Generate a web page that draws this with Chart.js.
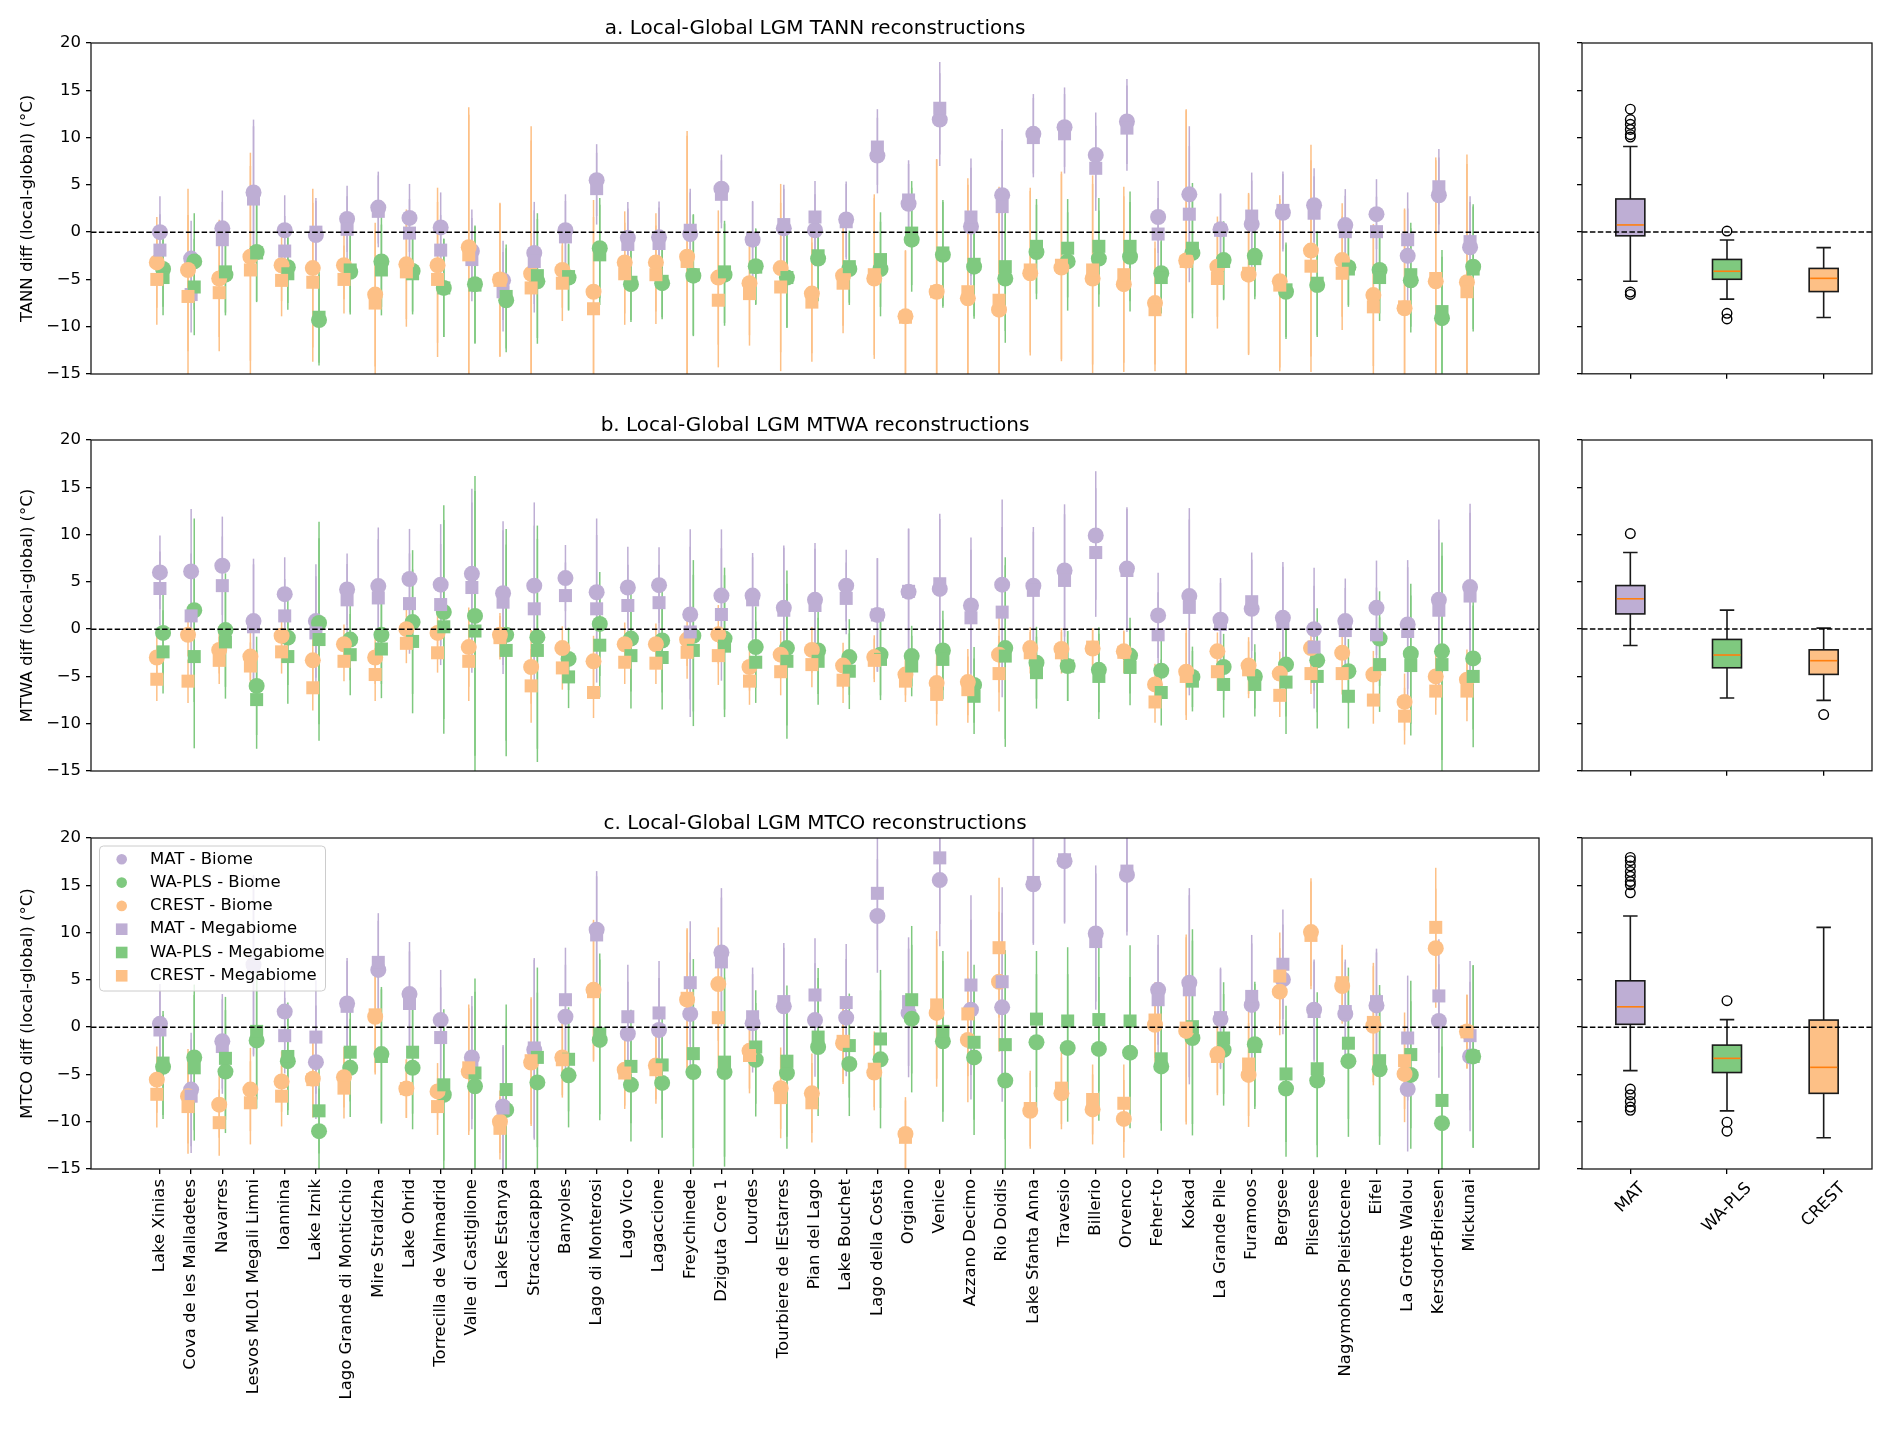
<!DOCTYPE html>
<html>
<head>
<meta charset="utf-8">
<script src="https://cdn.jsdelivr.net/npm/chart.js@4.4.1/dist/chart.umd.min.js"></script>
<style>
  body { margin: 0; background: #fff; width: 1892px; height: 1449px; position: relative; overflow: hidden; }
  canvas { position: absolute; }
</style>
</head>
<body>
<canvas id="mainA" width="1560" height="394" style="left:0;top:0"></canvas>
<canvas id="boxA" width="332" height="380" style="left:1560px;top:0"></canvas>
<canvas id="mainB" width="1560" height="394" style="left:0;top:397px"></canvas>
<canvas id="boxB" width="332" height="380" style="left:1560px;top:397px"></canvas>
<canvas id="mainC" width="1560" height="654" style="left:0;top:795px"></canvas>
<canvas id="boxC" width="332" height="654" style="left:1560px;top:795px"></canvas>
<script>
// sites along the x axis
const siteNames = ["Lake Xinias", "Cova de les Malladetes", "Navarres", "Lesvos ML01 Megali Limni", "Ioannina",
  "Lake Iznik", "Lago Grande di Monticchio", "Mire Straldzha", "Lake Ohrid", "Torrecilla de Valmadrid",
  "Valle di Castiglione", "Lake Estanya", "Stracciacappa", "Banyoles", "Lago di Monterosi", "Lago Vico",
  "Lagaccione", "Freychinede", "Dziguta Core 1", "Lourdes", "Tourbiere de lEstarres", "Pian del Lago",
  "Lake Bouchet", "Lago della Costa", "Orgiano", "Venice", "Azzano Decimo", "Rio Doidis", "Lake Sfanta Anna",
  "Travesio", "Billerio", "Orvenco", "Feher-to", "Kokad", "La Grande Pile", "Furamoos", "Bergsee",
  "Pilsensee", "Nagymohos Pleistocene", "Eifel", "La Grotte Walou", "Kersdorf-Briesen", "Mickunai"];
const methods = ["MAT", "WA-PLS", "CREST"];
const yTicks = [-15, -10, -5, 0, 5, 10, 15, 20];

// a. TANN
const tannMatBiome = [0.0,-2.8,0.4,4.2,0.2,-0.3,1.4,2.6,1.5,0.5,-2.0,-5.1,-2.2,0.2,5.5,-0.6,-0.55,-0.2,4.6,-0.8,0.4,0.2,1.35,8.1,3.0,11.9,0.6,3.9,10.4,11.1,8.15,11.7,1.6,4.0,0.3,0.85,2.05,2.85,0.75,1.9,-2.5,3.9,-1.6];
const tannMatMega = [-1.9,-6.6,-0.8,3.5,-2.0,0.0,0.3,2.2,-0.1,-1.9,-2.9,-6.3,-3.1,-0.5,4.6,-1.3,-1.2,0.2,4.0,-0.7,0.8,1.6,1.1,9.0,3.4,13.1,1.6,2.7,10.0,10.4,6.75,11.0,-0.2,1.9,0.2,1.7,2.3,2.0,0.05,0.05,-0.8,4.8,-1.0];
const tannWaplsBiome = [-3.9,-3.1,-4.5,-2.1,-3.7,-9.3,-4.2,-3.1,-4.1,-5.9,-5.5,-7.2,-5.2,-4.8,-1.7,-5.5,-5.4,-4.6,-4.5,-3.6,-4.8,-2.8,-3.9,-3.9,-0.8,-2.4,-3.65,-4.9,-2.1,-3.1,-2.8,-2.6,-4.35,-2.2,-2.95,-2.5,-6.3,-5.6,-3.7,-4.0,-5.1,-9.1,-3.65];
const tannWaplsMega = [-4.8,-5.8,-4.2,-2.2,-4.4,-9.0,-4.0,-4.0,-4.4,-5.9,-5.6,-6.8,-4.6,-4.7,-2.4,-5.3,-5.2,-4.5,-4.2,-3.7,-4.8,-2.5,-3.65,-2.9,-0.1,-2.2,-3.4,-3.65,-1.5,-1.7,-1.5,-1.5,-4.8,-1.7,-3.1,-2.8,-6.1,-5.4,-3.9,-4.8,-4.5,-8.4,-3.9];
const tannCrestBiome = [-3.2,-4.0,-4.9,-2.6,-3.5,-3.8,-3.5,-6.6,-3.4,-3.5,-1.6,-5.0,-4.4,-4.0,-6.3,-3.2,-3.2,-2.6,-4.8,-5.4,-3.8,-6.5,-4.6,-4.9,-8.9,-6.3,-7.0,-8.2,-4.35,-3.75,-4.9,-5.5,-7.5,-3.0,-3.65,-4.5,-5.2,-1.95,-2.95,-6.65,-8.05,-5.2,-5.3];
const tannCrestMega = [-5.0,-6.8,-6.4,-4.0,-5.1,-5.3,-5.0,-7.5,-4.2,-5.0,-2.4,-5.1,-5.9,-5.4,-8.1,-4.4,-4.5,-3.1,-7.2,-6.5,-5.8,-7.4,-5.4,-4.5,-9.0,-6.3,-6.3,-7.2,-4.0,-3.5,-4.0,-4.5,-8.2,-3.1,-4.9,-4.35,-5.6,-3.6,-4.35,-7.9,-7.9,-4.9,-6.3];
const tannMatErr = [3.8,4.0,4.0,7.7,3.7,3.6,3.5,3.8,3.6,3.7,4.4,4.2,5.4,3.8,3.8,3.8,3.8,4.4,3.6,4.0,4.2,3.8,4.0,4.0,4.2,4.9,6.2,7.0,4.2,4.2,4.5,4.5,3.8,7.2,3.8,4.6,4.1,3.9,3.8,3.7,5.0,4.0,4.8];
const tannWaplsErr = [4.0,5.1,4.3,5.2,3.8,4.8,4.5,4.8,4.3,5.2,6.2,5.5,6.6,3.5,5.3,4.0,3.8,6.4,5.4,4.0,5.3,4.5,3.8,5.0,5.5,5.6,5.5,6.8,5.0,5.2,5.1,5.8,3.8,6.9,4.1,4.3,5.0,5.5,4.0,4.6,5.5,6.5,6.6];
const tannCrestErr = [4.8,8.6,6.2,11.0,3.8,8.4,3.6,7.6,5.8,8.2,14.8,8.1,15.6,4.0,9.7,5.4,5.2,13.3,7.1,5.5,8.9,6.3,5.3,8.5,7.0,14.0,12.0,12.0,8.7,9.9,10.0,9.3,6.5,16.0,5.3,8.5,9.1,11.2,6.0,7.5,10.4,12.8,13.5];

// b. MTWA
const mtwaMatBiome = [6.0,6.1,6.7,0.85,3.7,0.85,4.2,4.55,5.3,4.7,5.85,3.8,4.6,5.4,3.9,4.4,4.65,1.55,3.55,3.55,2.25,3.1,4.6,1.5,3.95,4.25,2.5,4.7,4.6,6.2,9.9,6.4,1.45,3.5,1.0,2.15,1.2,0.0,0.85,2.25,0.5,3.1,4.45];
const mtwaMatMega = [4.3,1.4,4.6,0.25,1.4,-0.4,3.1,3.3,2.7,2.6,4.4,2.85,2.15,3.55,2.15,2.5,2.8,-0.3,1.55,3.1,2.0,2.5,3.25,1.5,4.0,4.8,1.2,1.8,4.1,5.15,8.1,6.2,-0.6,2.3,0.5,2.9,0.7,-1.9,-0.15,-0.6,-0.25,2.0,3.5];
const mtwaWaplsBiome = [-0.4,2.0,-0.1,-6.0,-0.9,0.65,-1.1,-0.6,0.75,1.8,1.4,-0.6,-0.85,-3.15,0.55,-1.0,-1.2,-0.7,-1.0,-1.9,-2.0,-2.25,-2.95,-2.7,-2.85,-2.25,-5.9,-2.0,-3.55,-3.9,-4.3,-2.8,-4.4,-5.05,-4.0,-5.0,-3.75,-3.3,-4.45,-1.0,-2.6,-2.35,-3.1];
const mtwaWaplsMega = [-2.4,-2.9,-1.35,-7.45,-2.9,-1.1,-2.7,-2.1,-1.3,0.25,-0.2,-2.25,-2.25,-5.05,-1.7,-2.8,-3.0,-2.25,-1.8,-3.5,-3.4,-3.4,-4.45,-3.2,-3.9,-3.2,-7.1,-2.85,-4.6,-3.9,-5.0,-4.05,-6.7,-5.5,-5.85,-5.85,-5.6,-5.0,-7.1,-3.75,-3.85,-3.75,-5.0];
const mtwaCrestBiome = [-3.0,-0.6,-2.2,-2.9,-0.7,-3.3,-1.6,-3.0,0.0,-0.4,-1.9,-0.6,-4.0,-2.0,-3.4,-1.6,-1.6,-1.1,-0.55,-4.0,-2.7,-2.2,-3.85,-2.95,-4.8,-5.7,-5.6,-2.7,-2.0,-2.1,-2.05,-2.35,-5.85,-4.5,-2.35,-3.85,-4.7,-2.0,-2.5,-4.8,-7.7,-5.0,-5.35];
const mtwaCrestMega = [-5.3,-5.5,-3.3,-3.9,-2.4,-6.2,-3.4,-4.8,-1.5,-2.5,-3.4,-0.9,-6.0,-4.1,-6.7,-3.5,-3.6,-2.45,-2.8,-5.5,-4.5,-3.75,-5.4,-3.3,-5.5,-6.9,-6.4,-4.7,-2.5,-2.5,-1.9,-2.45,-7.7,-5.0,-4.5,-4.3,-7.0,-4.7,-4.7,-7.5,-9.2,-6.55,-6.55];
const mtwaMatErr = [3.9,6.6,5.2,6.6,3.9,6.0,3.8,6.2,5.3,6.4,9.0,7.6,8.8,3.5,7.8,4.3,4.0,9.0,7.0,4.5,6.6,6.0,3.8,6.0,6.65,7.4,7.2,9.0,6.2,7.0,6.8,6.5,4.5,9.3,4.4,5.2,5.9,6.5,4.5,5.0,6.8,8.5,8.8];
const mtwaWaplsErr = [4.4,9.7,6.0,5.2,5.0,10.7,4.3,5.2,7.6,11.3,14.8,11.2,11.8,3.3,5.5,5.6,5.5,8.0,7.5,4.3,8.2,4.6,4.0,4.3,3.2,4.2,4.0,9.6,3.8,3.7,4.5,4.0,3.5,3.2,3.5,3.4,5.5,5.5,3.4,5.0,7.4,11.5,7.5];
const mtwaCrestErr = [2.3,2.3,2.5,2.5,2.3,2.4,2.1,2.8,2.1,2.1,4.2,2.3,3.9,2.3,2.7,2.3,2.2,2.8,3.1,2.5,2.5,2.4,2.4,2.3,2.2,3.3,3.5,4.0,2.2,2.2,2.0,2.2,2.2,4.6,2.0,3.0,2.3,2.15,2.2,2.5,3.0,2.5,3.2];

// c. MTCO
const mtcoMatBiome = [0.35,-6.6,-1.5,6.6,1.65,-3.7,2.5,6.05,3.5,0.75,-3.2,-8.4,-2.4,1.1,10.3,-0.7,-0.3,1.4,7.9,0.4,2.2,0.75,1.0,11.75,1.5,15.55,1.85,2.1,15.1,17.55,9.9,16.1,3.95,4.7,0.85,2.35,5.05,1.85,1.4,2.3,-6.55,0.65,-3.1];
const mtcoMatMega = [-0.3,-7.3,-2.05,6.4,-0.9,-1.05,2.2,6.85,2.5,-1.1,-4.3,-8.55,-2.2,2.9,9.75,1.1,1.5,4.7,6.9,1.1,2.7,3.4,2.6,14.15,2.7,17.9,4.45,4.8,15.3,17.7,9.05,16.5,2.9,3.95,1.0,3.25,6.65,1.65,1.65,2.7,-1.15,3.3,-0.9];
const mtcoWaplsBiome = [-4.2,-3.2,-4.7,-1.4,-3.6,-11.0,-4.3,-2.85,-4.3,-7.15,-6.25,-8.75,-5.85,-5.1,-1.35,-6.1,-5.9,-4.75,-4.75,-3.45,-4.85,-2.1,-3.9,-3.4,0.9,-1.5,-3.2,-5.65,-1.6,-2.2,-2.3,-2.7,-4.15,-1.15,-2.4,-1.8,-6.5,-5.65,-3.6,-4.45,-5.05,-10.15,-3.1];
const mtcoWaplsMega = [-3.8,-4.3,-3.3,-0.45,-3.1,-8.85,-2.65,-3.1,-2.65,-6.1,-4.85,-6.6,-3.2,-3.4,-0.7,-4.15,-4.0,-2.8,-3.7,-2.1,-3.6,-1.05,-1.95,-1.25,2.9,-0.45,-1.6,-1.85,0.85,0.65,0.8,0.65,-3.35,0.05,-1.15,-2.05,-4.95,-4.4,-1.7,-3.55,-2.9,-7.75,-3.1];
const mtcoCrestBiome = [-5.55,-7.3,-8.2,-6.6,-5.75,-5.45,-5.3,1.1,-6.5,-6.8,-4.7,-10.0,-3.75,-3.2,3.95,-4.5,-4.05,2.9,4.55,-2.5,-6.45,-7.0,-1.7,-4.8,-11.3,1.5,-1.35,4.8,-8.85,-7.0,-8.7,-9.7,0.25,-0.4,-2.85,-5.05,3.75,10.05,4.35,0.15,-4.95,8.35,-0.45];
const mtcoCrestMega = [-7.1,-8.4,-10.1,-8.0,-7.3,-5.55,-6.45,1.3,-6.5,-8.4,-4.3,-10.7,-3.55,-3.45,3.75,-4.85,-4.5,3.05,1.0,-3.0,-7.45,-8.0,-1.5,-4.45,-11.65,2.35,1.4,8.4,-8.6,-6.45,-7.65,-8.05,0.75,-0.1,-3.1,-3.9,5.4,9.7,4.7,0.5,-3.55,10.55,-0.5];
const mtcoMatErr = [4.2,6.0,5.0,9.5,4.0,6.0,4.8,5.2,5.5,5.3,6.5,6.5,9.5,5.5,6.2,5.5,5.5,6.5,6.8,5.2,6.2,6.0,6.2,6.0,6.8,7.0,9.5,10.0,6.4,6.6,7.2,6.4,5.8,10.0,5.3,6.5,5.8,5.3,5.5,5.6,6.6,6.0,7.9];
const mtcoWaplsErr = [5.5,7.7,6.5,7.2,5.7,4.5,5.2,7.1,6.5,8.0,10.0,9.0,9.5,5.5,8.5,6.0,5.8,10.0,10.0,6.0,8.0,7.3,5.5,7.3,7.8,8.5,8.2,10.0,7.2,7.8,7.6,8.0,6.8,10.3,5.9,6.6,7.2,8.1,8.0,8.0,7.8,8.1,9.65];
const mtcoCrestErr = [3.5,5.0,3.5,4.4,3.2,4.0,3.2,6.1,3.1,3.0,6.7,3.3,6.7,4.0,7.4,3.8,3.6,7.4,6.0,4.0,4.3,4.2,4.3,4.0,3.9,7.8,6.6,7.4,4.0,3.8,3.7,4.1,4.0,9.9,4.1,5.5,4.6,5.7,4.0,6.3,5.1,6.3,3.9];

// boxplot summaries (MAT, WA-PLS, CREST)
const tannBoxLow = [-5.2, -7.1, -9.05];
const tannBoxQ1 = [-0.4, -5.0, -6.3];
const tannBoxMed = [0.75, -4.15, -4.9];
const tannBoxQ3 = [3.5, -2.9, -3.85];
const tannBoxHigh = [9.05, -0.85, -1.65];
const tannFliers = [[13.0, 11.9, 11.4, 10.85, 10.3, 10.05, -6.35, -6.6], [0.1, -8.6, -9.2], []];

const mtwaBoxLow = [-1.75, -7.3, -7.55];
const mtwaBoxQ1 = [1.6, -4.1, -4.8];
const mtwaBoxMed = [3.2, -2.75, -3.35];
const mtwaBoxQ3 = [4.6, -1.1, -2.2];
const mtwaBoxHigh = [8.1, 2.0, 0.1];
const mtwaFliers = [[10.1], [], [-9.05]];

const mtcoBoxLow = [-4.6, -8.85, -11.7];
const mtcoBoxQ1 = [0.3, -4.8, -7.0];
const mtcoBoxMed = [2.15, -3.3, -4.25];
const mtcoBoxQ3 = [4.9, -1.9, 0.75];
const mtcoBoxHigh = [11.75, 0.8, 10.55];
const mtcoFliers = [[17.95, 17.6, 17.05, 16.45, 15.95, 15.4, 15.05, 14.2, -6.55, -7.15, -7.85, -8.45, -8.8], [2.8, -10.05, -11.0], []];

const colors = { "MAT": "#beaed4", "WA-PLS": "#7fc97f", "CREST": "#fdc086" };
const xShift = { "MAT": 0, "WA-PLS": 0.1, "CREST": -0.1 };
const X_MIN = -2.21, X_MAX = 44.21;

Chart.defaults.font.family = '"DejaVu Sans", sans-serif';
Chart.defaults.font.size = 16.5;
Chart.defaults.color = "#000";

function minusTick(v) {
  return v < 0 ? "\u2212" + Math.abs(v) : String(v);
}

const tickGrid = { drawOnChartArea: false, drawTicks: true, tickLength: 5, color: "#000", lineWidth: 1.3 };

// vertical error bars drawn under all markers
const errorBars = {
  id: "errorBars",
  beforeDatasetsDraw(chart) {
    const { ctx, chartArea: a, scales: { x, y } } = chart;
    ctx.save();
    ctx.beginPath();
    ctx.rect(a.left, a.top, a.width, a.height);
    ctx.clip();
    ctx.lineWidth = 1.5;
    chart.data.datasets.forEach(ds => {
      if (!ds.err) return;
      ctx.strokeStyle = ds.backgroundColor;
      ds.data.forEach((p, i) => {
        const px = x.getPixelForValue(p.x);
        ctx.beginPath();
        ctx.moveTo(px, y.getPixelForValue(p.y - ds.err[i]));
        ctx.lineTo(px, y.getPixelForValue(p.y + ds.err[i]));
        ctx.stroke();
      });
    });
    ctx.restore();
  }
};

const frame = {
  id: "frame",
  afterDatasetsDraw(chart) {
    const { ctx, chartArea: a } = chart;
    ctx.save();
    ctx.strokeStyle = "#1a1a1a";
    ctx.lineWidth = 1.3;
    ctx.strokeRect(a.left, a.top, a.width, a.height);
    ctx.restore();
  }
};

// matplotlib style legend in the upper left of panel c
const legendBox = {
  id: "legendBox",
  afterDraw(chart) {
    const { ctx, chartArea: a } = chart;
    const x0 = a.left + 8.5, y0 = a.top + 8;
    ctx.save();
    ctx.fillStyle = "rgba(255,255,255,0.8)";
    ctx.strokeStyle = "#cccccc";
    ctx.lineWidth = 1;
    ctx.beginPath();
    ctx.roundRect(x0, y0, 226, 145, 4);
    ctx.fill();
    ctx.stroke();
    ctx.font = '16.5px "DejaVu Sans"';
    ctx.textBaseline = "middle";
    chart.data.datasets.filter(d => d.err).forEach((d, k) => {
      const cy = y0 + 13.3 + k * 23.3, cx = a.left + 30.7;
      ctx.fillStyle = d.backgroundColor;
      if (d.pointStyle === "circle") {
        ctx.beginPath();
        ctx.arc(cx, cy, 5.3, 0, Math.PI * 2);
        ctx.fill();
      } else {
        ctx.fillRect(cx - 5.8, cy - 5.8, 11.6, 11.6);
      }
      ctx.fillStyle = "#000";
      ctx.fillText(d.label, a.left + 59, cy);
    });
    ctx.restore();
  }
};

function mainChart(id, title, yLabel, s, withLabels) {
  const series = [
    ["MAT - Biome", s.matB, s.matE, "MAT", "circle"],
    ["WA-PLS - Biome", s.wapB, s.wapE, "WA-PLS", "circle"],
    ["CREST - Biome", s.crB, s.crE, "CREST", "circle"],
    ["MAT - Megabiome", s.matM, s.matE, "MAT", "rect"],
    ["WA-PLS - Megabiome", s.wapM, s.wapE, "WA-PLS", "rect"],
    ["CREST - Megabiome", s.crM, s.crE, "CREST", "rect"]
  ];
  const datasets = series.map(([label, vals, err, m, style], k) => ({
    label: label,
    data: vals.map((v, i) => ({ x: i + xShift[m], y: v })),
    err: err,
    pointStyle: style,
    pointRadius: style === "circle" ? 8 : 9.2,
    pointHoverRadius: style === "circle" ? 8 : 9.2,
    backgroundColor: colors[m],
    borderColor: colors[m],
    borderWidth: 0,
    order: 6 - k,
    clip: 0
  }));
  datasets.push({
    type: "line", showLine: true, label: "zero",
    data: [{ x: X_MIN, y: 0 }, { x: X_MAX, y: 0 }],
    borderColor: "#000", borderWidth: 1.5, borderDash: [5.5, 2.4],
    pointRadius: 0, order: 0, clip: 0
  });

  const plugins = [errorBars, frame];
  if (withLabels) plugins.push(legendBox);

  return new Chart(document.getElementById(id), {
    type: "scatter",
    data: { datasets: datasets },
    plugins: plugins,
    options: {
      responsive: false,
      animation: false,
      devicePixelRatio: 1,
      events: [],
      // panels a and b: the bottom inset (20) must exceed the y tick label overflow
      layout: { padding: { left: 0, right: 21, top: 0, bottom: withLabels ? 0 : 20 } },
      plugins: {
        legend: { display: false },
        tooltip: { enabled: false },
        title: {
          display: true, text: title, fullSize: false,
          font: { size: 20, weight: "normal" },
          padding: { top: 17, bottom: 2 }
        }
      },
      scales: {
        x: {
          type: "linear", min: X_MIN, max: X_MAX,
          display: withLabels,
          afterBuildTicks: axis => { axis.ticks = siteNames.map((n, i) => ({ value: i })); },
          afterFit: axis => { axis.height = withLabels ? 280 : 0; },
          grid: tickGrid,
          border: { display: false },
          ticks: {
            autoSkip: false, maxRotation: 90, minRotation: 90, padding: 5,
            callback: v => siteNames[v]
          }
        },
        y: {
          min: -15, max: 20,
          afterBuildTicks: axis => { axis.ticks = yTicks.map(v => ({ value: v })); },
          afterFit: axis => { axis.width = 91; },
          title: { display: true, text: yLabel, padding: { top: 18, bottom: 0 } },
          grid: tickGrid,
          border: { display: false },
          ticks: { padding: 5, callback: v => minusTick(v) }
        }
      }
    }
  });
}

function boxChart(id, b, withLabels) {
  const boxDraw = {
    id: "boxDraw",
    beforeDatasetsDraw(chart) {
      const { ctx, scales: { x, y } } = chart;
      ctx.save();
      methods.forEach((m, i) => {
        const pos = i + 1;
        const l = x.getPixelForValue(pos - 0.15), r = x.getPixelForValue(pos + 0.15);
        const cl = x.getPixelForValue(pos - 0.075), cr = x.getPixelForValue(pos + 0.075);
        const c = x.getPixelForValue(pos);
        const q1 = y.getPixelForValue(b.q1[i]), q3 = y.getPixelForValue(b.q3[i]);
        const lo = y.getPixelForValue(b.low[i]), hi = y.getPixelForValue(b.high[i]);
        const md = y.getPixelForValue(b.med[i]);
        ctx.strokeStyle = "#1a1a1a";
        ctx.lineWidth = 1.6;
        ctx.beginPath();
        ctx.moveTo(c, q1); ctx.lineTo(c, lo);
        ctx.moveTo(c, q3); ctx.lineTo(c, hi);
        ctx.moveTo(cl, lo); ctx.lineTo(cr, lo);
        ctx.moveTo(cl, hi); ctx.lineTo(cr, hi);
        ctx.stroke();
        ctx.fillStyle = colors[m];
        ctx.fillRect(l, q3, r - l, q1 - q3);
        ctx.strokeRect(l, q3, r - l, q1 - q3);
        ctx.strokeStyle = "#ff7f0e";
        ctx.beginPath();
        ctx.moveTo(l + 1, md); ctx.lineTo(r - 1, md);
        ctx.stroke();
      });
      ctx.restore();
    }
  };
  // rotated category names, centred under each tick
  const boxLabels = {
    id: "boxLabels",
    afterDraw(chart) {
      const { ctx, chartArea: a, scales: { x } } = chart;
      ctx.save();
      ctx.font = '16.5px "DejaVu Sans"';
      ctx.fillStyle = "#000";
      ctx.textAlign = "center";
      ctx.textBaseline = "middle";
      methods.forEach((m, i) => {
        const w = ctx.measureText(m).width;
        const side = (w + 19) * Math.SQRT1_2;
        ctx.save();
        ctx.translate(x.getPixelForValue(i + 1), a.bottom + 10 + side / 2);
        ctx.rotate(-Math.PI / 4);
        ctx.fillText(m, 0, 0);
        ctx.restore();
      });
      ctx.restore();
    }
  };

  const fliers = [];
  b.fliers.forEach((list, i) => list.forEach(v => fliers.push({ x: i + 1, y: v })));

  const plugins = [boxDraw, frame];
  if (withLabels) plugins.push(boxLabels);

  return new Chart(document.getElementById(id), {
    type: "scatter",
    data: {
      datasets: [
        {
          type: "line", showLine: true, label: "zero",
          data: [{ x: 0.5, y: 0 }, { x: 3.5, y: 0 }],
          borderColor: "#000", borderWidth: 1.5, borderDash: [5.5, 2.4],
          pointRadius: 0, order: 0, clip: 0
        },
        {
          label: "outliers", data: fliers,
          pointStyle: "circle", pointRadius: 4.8, pointHoverRadius: 4.8,
          backgroundColor: "rgba(0,0,0,0)", borderColor: "#000", borderWidth: 1.4,
          order: 1, clip: 0
        }
      ]
    },
    plugins: plugins,
    options: {
      responsive: false,
      animation: false,
      devicePixelRatio: 1,
      events: [],
      layout: { padding: { left: 0, right: 20, top: 43, bottom: 0 } },
      plugins: { legend: { display: false }, tooltip: { enabled: false } },
      scales: {
        x: {
          type: "linear", min: 0.5, max: 3.5,
          afterBuildTicks: axis => { axis.ticks = methods.map((m, i) => ({ value: i + 1 })); },
          afterFit: axis => { axis.height = withLabels ? 280 : 6; },
          grid: tickGrid,
          border: { display: false },
          ticks: { display: false }
        },
        y: {
          min: -15, max: 20,
          afterBuildTicks: axis => { axis.ticks = yTicks.map(v => ({ value: v })); },
          afterFit: axis => { axis.width = 22; },
          grid: tickGrid,
          border: { display: false },
          ticks: { display: false }
        }
      }
    }
  });
}

mainChart("mainA", "a. Local-Global LGM TANN reconstructions", "TANN diff (local-global) (\u00B0C)", {
  matB: tannMatBiome, matM: tannMatMega, wapB: tannWaplsBiome, wapM: tannWaplsMega,
  crB: tannCrestBiome, crM: tannCrestMega, matE: tannMatErr, wapE: tannWaplsErr, crE: tannCrestErr
}, false);
mainChart("mainB", "b. Local-Global LGM MTWA reconstructions", "MTWA diff (local-global) (\u00B0C)", {
  matB: mtwaMatBiome, matM: mtwaMatMega, wapB: mtwaWaplsBiome, wapM: mtwaWaplsMega,
  crB: mtwaCrestBiome, crM: mtwaCrestMega, matE: mtwaMatErr, wapE: mtwaWaplsErr, crE: mtwaCrestErr
}, false);
mainChart("mainC", "c. Local-Global LGM MTCO reconstructions", "MTCO diff (local-global) (\u00B0C)", {
  matB: mtcoMatBiome, matM: mtcoMatMega, wapB: mtcoWaplsBiome, wapM: mtcoWaplsMega,
  crB: mtcoCrestBiome, crM: mtcoCrestMega, matE: mtcoMatErr, wapE: mtcoWaplsErr, crE: mtcoCrestErr
}, true);

boxChart("boxA", { low: tannBoxLow, q1: tannBoxQ1, med: tannBoxMed, q3: tannBoxQ3, high: tannBoxHigh, fliers: tannFliers }, false);
boxChart("boxB", { low: mtwaBoxLow, q1: mtwaBoxQ1, med: mtwaBoxMed, q3: mtwaBoxQ3, high: mtwaBoxHigh, fliers: mtwaFliers }, false);
boxChart("boxC", { low: mtcoBoxLow, q1: mtcoBoxQ1, med: mtcoBoxMed, q3: mtcoBoxQ3, high: mtcoBoxHigh, fliers: mtcoFliers }, true);
</script>
</body>
</html>
